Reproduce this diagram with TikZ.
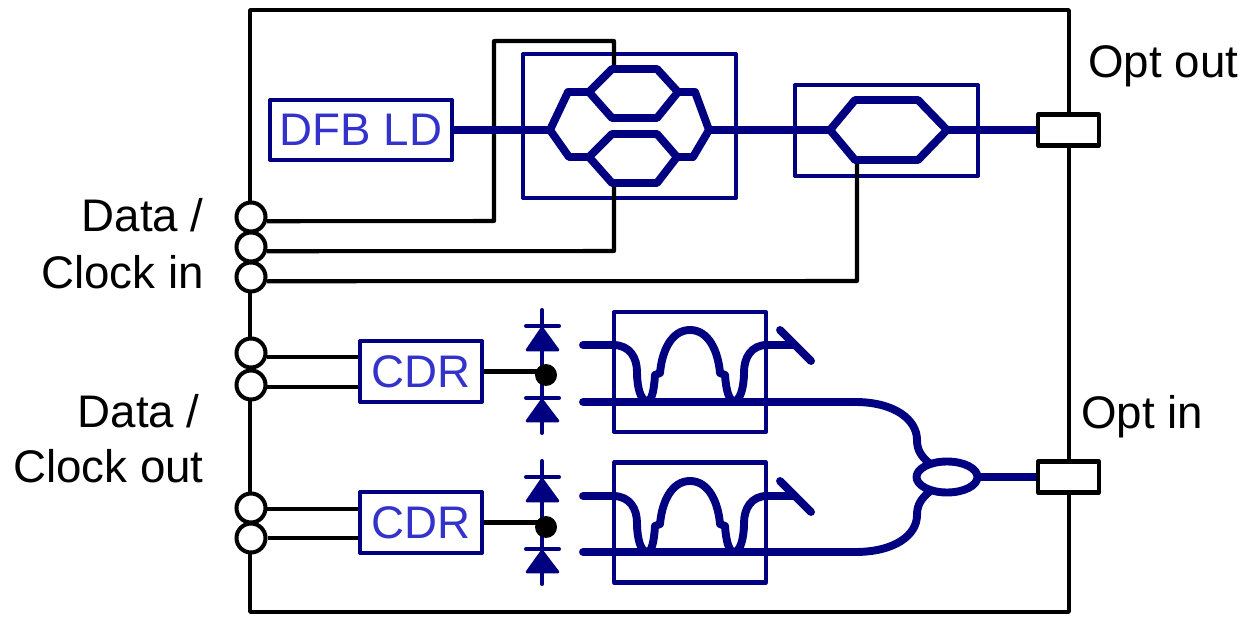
\documentclass[tikz,border=0pt]{standalone}
\usepackage{fontspec}
\setmainfont{Liberation Sans}
\usepackage{tikz}
\usetikzlibrary{shapes.geometric}
\definecolor{wgblue}{RGB}{0,0,128}
\definecolor{txtblue}{RGB}{51,51,204}
\tikzset{
  wire/.style={draw=black,line width=2.3pt,line join=round},
  guide/.style={draw=wgblue,line width=4.5pt,line join=round},
  thinblue/.style={draw=wgblue,line width=2.3pt,line join=round},
  bluebox/.style={thinblue,rectangle,inner sep=0pt,font=\fontsize{26}{30}\selectfont,text=txtblue},
  pin/.style={wire,circle,fill=white,minimum size=0.58cm,inner sep=0pt},
  port/.style={wire,rectangle,fill=white,minimum width=1.22cm,minimum height=0.62cm,inner sep=0pt},
  lbl/.style={font=\fontsize{26}{30}\selectfont,inner sep=0pt},
  diode/.style={fill=wgblue,draw=wgblue,line width=1.5pt,line join=round}
}
\begin{document}
\begin{tikzpicture}[x=0.02cm,y=0.02cm]
\useasboundingbox (0,0) rectangle (1256,-617);
% package
\node [wire,rectangle,inner sep=0pt,minimum width=16.38cm,minimum height=12.04cm] (pkg) at (659.5,-311) {};
% transmitter boxes
\node [bluebox,minimum width=3.64cm,minimum height=1.2cm] (dfb) at (361,-130) {DFB LD\hspace{3.4pt}};
\node [thinblue,rectangle,inner sep=0pt,minimum width=4.26cm,minimum height=2.88cm] (iqmod) at (629.5,-126) {};
\node [thinblue,rectangle,inner sep=0pt,minimum width=3.66cm,minimum height=1.82cm] (mzmod) at (886.5,-130.5) {};
% receiver boxes
\node [bluebox,minimum width=2.44cm,minimum height=1.22cm] (cdrA) at (421,-371.5) {CDR};
\node [bluebox,minimum width=2.44cm,minimum height=1.22cm] (cdrB) at (421,-522.5) {CDR};
\node [thinblue,rectangle,inner sep=0pt,minimum width=3.04cm,minimum height=2.4cm] (ringA) at (690,-372) {};
\node [thinblue,rectangle,inner sep=0pt,minimum width=3.04cm,minimum height=2.4cm] (ringB) at (690,-522.5) {};
% pins and ports
\node [pin] (pinA) at (251,-217) {};
\node [pin] (pinB) at (251,-247) {};
\node [pin] (pinC) at (251,-277) {};
\node [pin] (pinD) at (251,-353) {};
\node [pin] (pinE) at (251,-385) {};
\node [pin] (pinF) at (251,-508) {};
\node [pin] (pinG) at (251,-538) {};
\node [port] (optOut) at (1068.5,-130) {};
\node [port] (optIn) at (1068.5,-477) {};
% labels
\node [lbl,anchor=base west] (lblOptOut) at (1088,-78) {Opt out};
\node [lbl,anchor=base west] (lblOptIn) at (1081,-429) {Opt in};
\node [lbl,anchor=base east] (lblDataIn) at (204,-232) {Data /};
\node [lbl,anchor=base east] (lblClockIn) at (204,-289) {Clock in};
\node [lbl,anchor=base east] (lblDataOut) at (200,-428) {Data /};
\node [lbl,anchor=base east] (lblClockOut) at (204,-482) {Clock out};
% junction points
\coordinate (armTop) at (614,-69);
\coordinate (armBot) at (614,-183);
\coordinate (mzBot) at (857,-160);
\coordinate (iqIn) at (550,-130);
\coordinate (iqOut) at (709,-130);
\coordinate (mzIn) at (830,-130);
\coordinate (mzOut) at (947,-130);
% black wires
\draw [wire] (pinA.-15) -- (494,-221) -- (494,-41) -- (614,-41) -- (armTop);
\draw [wire] (pinB.-15) -- (614,-251) -- (armBot);
\draw [wire] (pinC.-15) -- (857,-281) -- (mzBot);
\draw [wire] (pinD.-15) -- (pinD.-15 -| cdrA.west);
\draw [wire] (pinE.-8) -- (pinE.-8 -| cdrA.west);
\draw [wire] (pinF.-5) -- (pinF.-5 -| cdrB.west);
\draw [wire] (pinG.0) -- (pinG.0 -| cdrB.west);
% modulators
\draw [guide] (dfb.east) -- (iqIn);
\draw [guide] (iqOut) -- (mzIn);
\draw [guide] (mzOut) -- (optOut.west);
\draw [guide] (iqIn) -- (568,-92) -- (589,-92);
\draw [guide] (612,-69) -- (657,-69) -- (678,-92) -- (657,-118) -- (612,-118) -- (589,-92) -- cycle;
\draw [guide] (678,-92) -- (695,-92) -- (iqOut);
\draw [guide] (iqIn) -- (569,-157) -- (589,-157);
\draw [guide] (612,-134) -- (657,-134) -- (677,-157) -- (657,-183) -- (612,-183) -- (589,-157) -- cycle;
\draw [guide] (677,-157) -- (693,-157) -- (iqOut);
\draw [guide] (mzIn) -- (855,-100) -- (918,-100) -- (mzOut) -- (918,-160) -- (855,-160) -- cycle;
% photodiodes upper
\coordinate (dotA) at (546,-375);
\draw [thinblue,line cap=round] (542,-310) -- (542,-433);
\draw [thinblue,line cap=round] (526,-326) -- (559,-326);
\draw [thinblue,line cap=round] (526,-398) -- (559,-398);
\draw [diode] (542,-328) -- (527,-350) -- (558,-350) -- cycle;
\draw [diode] (542,-400) -- (527,-421) -- (558,-421) -- cycle;
\draw [wire] (cdrA.east) -- (cdrA.east -| dotA);
\node [circle,fill=black,minimum size=0.44cm,inner sep=0pt] (dotNodeA) at (dotA) {};
% photodiodes lower
\coordinate (dotB) at (546,-527);
\draw [thinblue,line cap=round] (542,-461) -- (542,-584);
\draw [thinblue,line cap=round] (526,-477) -- (559,-477);
\draw [thinblue,line cap=round] (526,-549) -- (559,-549);
\draw [diode] (542,-479) -- (527,-501) -- (558,-501) -- cycle;
\draw [diode] (542,-551) -- (527,-572) -- (558,-572) -- cycle;
\draw [wire] (cdrB.east) -- (cdrB.east -| dotB);
\node [circle,fill=black,minimum size=0.44cm,inner sep=0pt] (dotNodeB) at (dotB) {};
% filters upper
\draw [guide,line cap=round] (583,-345) -- (613,-345) .. controls (630,-345) and (637,-358) .. (637,-372) .. controls (637,-388) and (641,-401) .. (647,-401) .. controls (652,-401) and (654,-390) .. (655,-375) -- (660,-373) .. controls (662,-350) and (672,-330) .. (690,-330) .. controls (708,-330) and (718,-350) .. (720,-373) -- (725,-375) .. controls (726,-390) and (729,-401) .. (734,-401) .. controls (740,-401) and (744,-388) .. (744,-372) .. controls (744,-358) and (751,-345) .. (767,-345) -- (795,-345);
\draw [guide,line cap=round] (780,-330) -- (811,-361);
\draw [guide,line cap=round] (583,-402) -- (855,-402) .. controls (895,-402) and (917,-420) .. (917,-440) .. controls (917,-450) and (921,-456) .. (929,-463);
% filters lower
\draw [guide,line cap=round] (583,-496) -- (613,-496) .. controls (630,-496) and (637,-509) .. (637,-523) .. controls (637,-539) and (641,-552) .. (647,-552) .. controls (652,-552) and (654,-541) .. (655,-526) -- (660,-524) .. controls (662,-501) and (672,-481) .. (690,-481) .. controls (708,-481) and (718,-501) .. (720,-524) -- (725,-526) .. controls (726,-541) and (729,-552) .. (734,-552) .. controls (740,-552) and (744,-539) .. (744,-523) .. controls (744,-509) and (751,-496) .. (767,-496) -- (795,-496);
\draw [guide,line cap=round] (780,-481) -- (811,-512);
\draw [guide,line cap=round] (583,-552) -- (855,-552) .. controls (895,-552) and (917,-535) .. (917,-515) .. controls (917,-505) and (921,-499) .. (929,-492);
% coupler
\node [guide,ellipse,fill=white,inner sep=0pt,minimum width=1.22cm,minimum height=0.62cm] (coupler) at (947,-477) {};
\draw [guide] (coupler.east) -- (optIn.west);
\end{tikzpicture}
\end{document}
